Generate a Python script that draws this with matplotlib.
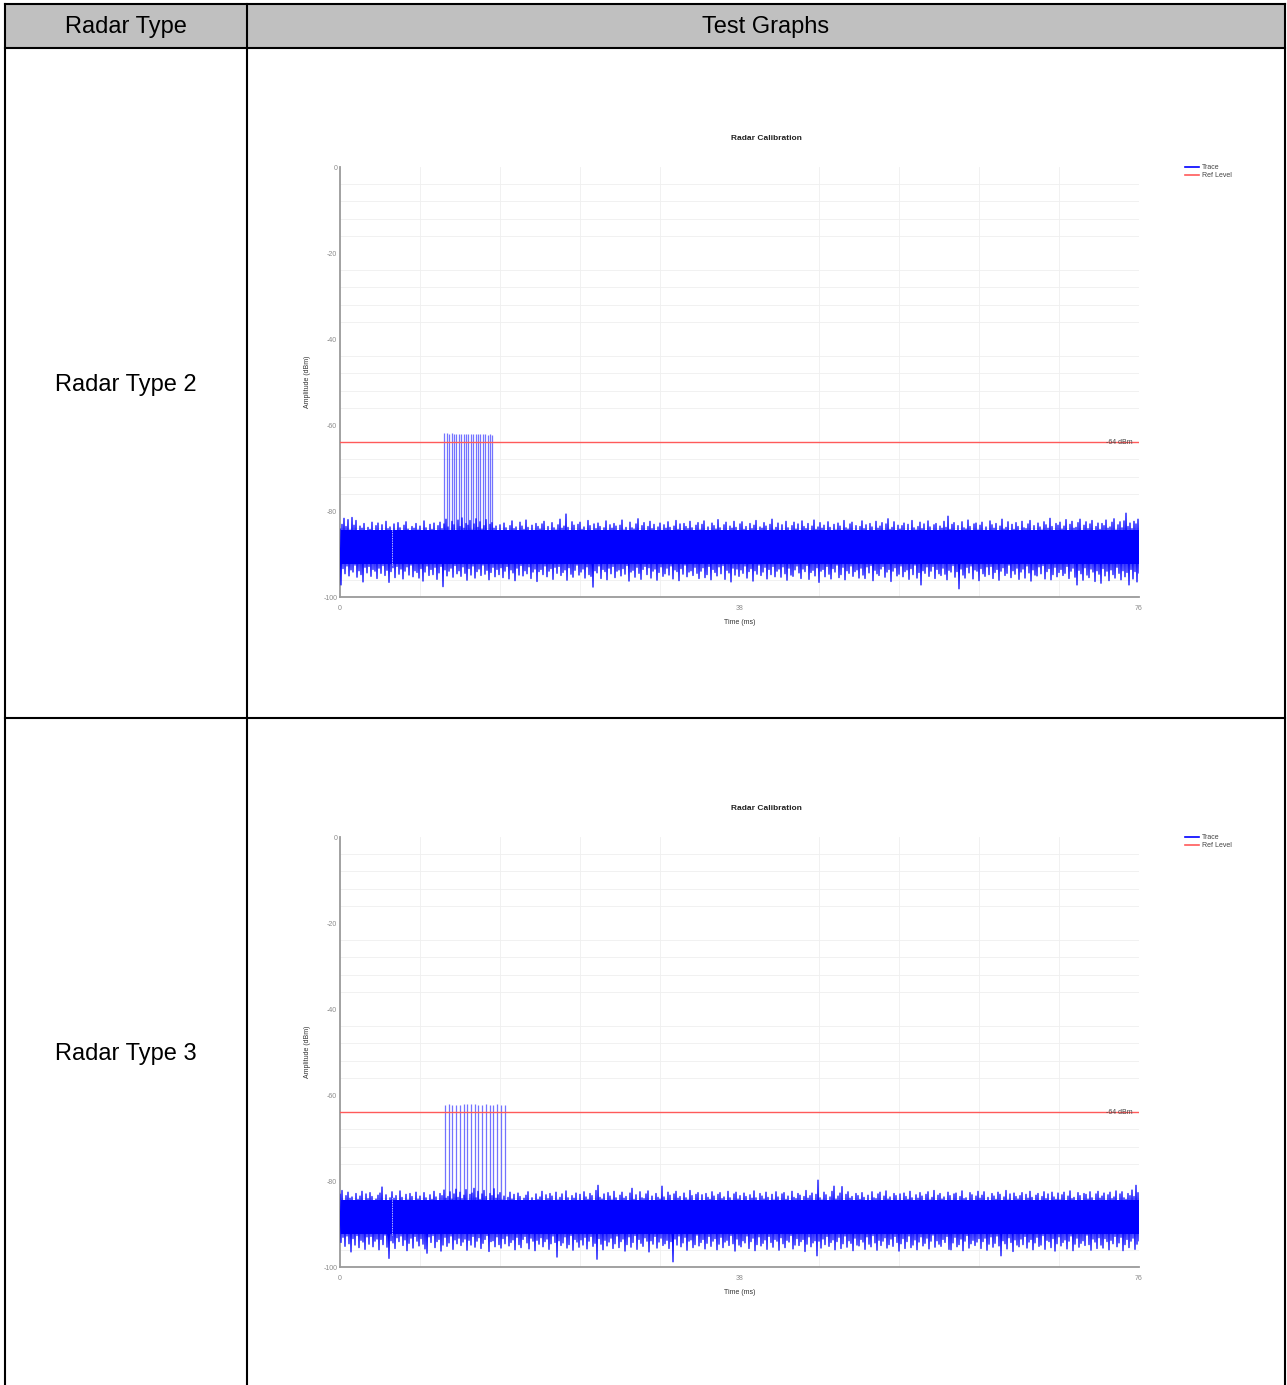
import numpy as np
import matplotlib
matplotlib.use("Agg")
import matplotlib.pyplot as plt
from matplotlib.patches import Rectangle
from matplotlib.lines import Line2D

plt.rcParams['font.family'] = ['Liberation Sans', 'DejaVu Sans']

# ---------------- data ----------------
header_labels = ["Radar Type", "Test Graphs"]
row_labels = ["Radar Type 2", "Radar Type 3"]
chart_title = "Radar Calibration"
x_label = "Time (ms)"
y_label = "Amplitude (dBm)"
legend_labels = ["Trace", "Ref Level"]

time_span_ms = 76
x_tick_values = [0, 38, 76]
y_tick_values = [0, -20, -40, -60, -80, -100]
ref_level_db = -64
ref_level_label = "-64 dBm"
noise_core_db = [-84.5, -92.3]
pulse_base_db = -85.0
marker_ms = 4.95
marker_range_db = [-83.7, -92.6]

# ---- Radar Type 2 trace ----
t2_pulse_ms = [9.92, 10.15, 10.38, 10.61, 10.84, 11.07, 11.29, 11.52, 11.75, 11.98, 12.21,
               12.44, 12.67, 12.90, 13.13, 13.36, 13.59, 13.81, 14.04, 14.27, 14.50]
t2_pulse_db = [-61.9, -61.9, -62.0, -61.9, -62.0, -62.1, -62.0, -62.1, -62.1, -62.0, -62.1,
               -62.1, -62.2, -62.1, -62.0, -62.2, -62.2, -62.1, -62.3, -62.2, -62.3]
t2_noise_upper = [
    -84.2,-83.1,-81.7,-83.6,-82.0,-84.4,-81.5,-83.3,-82.2,-84.8,-83.5,-84.0,-82.9,-85.1,-83.8,-84.3,-82.6,-84.9,-83.4,-82.8,
    -84.6,-83.2,-85.0,-82.4,-84.1,-83.7,-85.3,-83.0,-84.5,-82.7,-83.9,-84.7,-83.3,-82.5,-84.2,-85.2,-83.6,-84.0,-82.9,-84.4,
    -83.5,-84.8,-82.3,-83.9,-85.0,-83.1,-84.3,-82.8,-84.6,-83.4,-82.6,-84.1,-83.0,-81.9,-83.7,-84.5,-82.4,-83.2,-84.9,-82.1,
    -83.6,-81.6,-84.0,-82.9,-83.3,-82.2,-84.4,-83.0,-81.8,-83.8,-82.5,-84.2,-83.4,-82.0,-84.7,-83.1,-82.7,-84.0,-83.5,-85.0,
    -83.2,-84.6,-82.8,-83.9,-85.2,-83.4,-82.3,-84.1,-83.7,-84.8,-82.6,-83.5,-84.3,-82.1,-83.8,-85.0,-83.3,-84.5,-82.9,-83.6,
    -84.2,-83.0,-82.4,-84.7,-83.6,-85.1,-82.7,-83.9,-84.4,-83.2,-81.9,-84.0,-83.5,-80.7,-83.8,-84.6,-82.5,-83.3,-84.9,-83.1,
    -82.6,-84.3,-83.7,-85.0,-82.2,-83.4,-84.8,-83.0,-84.1,-82.8,-83.6,-85.2,-83.9,-82.3,-84.5,-83.2,-84.0,-82.9,-83.5,-84.7,
    -83.3,-82.1,-84.4,-83.8,-85.1,-82.6,-83.9,-84.2,-83.0,-81.8,-84.6,-83.4,-82.7,-84.9,-83.6,-82.4,-84.1,-83.1,-85.0,-83.7,
    -82.8,-84.5,-83.2,-84.0,-82.5,-83.8,-85.2,-83.5,-82.2,-84.3,-83.0,-84.8,-82.9,-83.6,-84.1,-82.4,-83.9,-85.0,-83.3,-82.7,
    -84.4,-83.1,-82.3,-84.7,-83.7,-85.1,-82.8,-83.4,-84.2,-82.0,-83.9,-84.6,-83.2,-82.6,-85.0,-83.5,-84.0,-82.4,-83.8,-84.9,
    -83.0,-82.5,-84.3,-83.6,-85.2,-82.9,-84.1,-83.3,-82.2,-84.8,-83.7,-84.0,-82.7,-83.5,-84.6,-83.1,-81.9,-84.4,-83.8,-82.8,
    -84.5,-83.2,-84.9,-82.4,-83.9,-85.0,-83.4,-82.6,-84.2,-83.0,-84.7,-82.3,-83.6,-84.1,-82.9,-85.1,-83.5,-82.1,-84.3,-83.7,
    -82.7,-84.0,-83.3,-84.6,-82.5,-83.8,-85.2,-83.1,-84.4,-82.8,-83.5,-84.9,-82.2,-83.9,-84.2,-83.0,-82.6,-84.7,-83.4,-85.0,
    -83.6,-82.3,-84.1,-83.2,-84.8,-82.9,-83.7,-85.1,-82.4,-84.0,-83.5,-82.7,-84.5,-83.0,-81.8,-84.3,-83.8,-82.5,-84.9,-83.3,
    -84.2,-83.4,-82.8,-85.0,-83.1,-84.6,-82.2,-83.9,-84.4,-83.6,-82.6,-84.1,-83.0,-84.8,-82.3,-83.7,-85.2,-83.2,-82.9,-84.5,
    -83.5,-84.0,-82.4,-83.8,-81.2,-84.3,-83.1,-82.7,-84.7,-83.4,-85.0,-82.5,-83.9,-84.2,-82.1,-83.6,-84.9,-83.0,-82.8,-84.4,
    -83.3,-82.6,-84.5,-83.7,-85.1,-82.3,-83.2,-84.0,-82.9,-84.6,-83.5,-81.9,-84.2,-83.8,-82.5,-85.0,-83.1,-84.3,-82.7,-83.6,
    -84.8,-82.4,-83.9,-84.1,-83.0,-82.2,-84.6,-83.4,-85.2,-82.8,-83.7,-84.4,-82.5,-83.2,-84.0,-81.7,-83.6,-84.9,-82.9,-83.3,
    -82.6,-84.2,-83.5,-82.0,-84.7,-83.1,-82.4,-84.0,-83.8,-82.7,-81.9,-84.5,-83.3,-82.5,-84.1,-83.0,-82.2,-84.6,-83.6,-82.8,
    -84.3,-82.9,-83.4,-82.1,-84.0,-83.7,-82.6,-81.8,-84.4,-83.2,-82.5,-83.9,-82.3,-80.5,-83.6,-82.8,-84.1,-82.4,-83.0,-81.9,
]
t2_noise_lower = [
    -97.2,-93.4,-94.6,-92.8,-95.1,-93.7,-94.2,-92.6,-95.4,-93.9,-94.8,-96.5,-93.1,-94.4,-92.9,-95.2,-93.6,-94.0,-95.7,-93.3,
    -94.5,-92.7,-95.0,-93.8,-96.6,-94.1,-93.2,-95.5,-92.9,-94.7,-93.5,-95.8,-94.0,-93.0,-94.9,-92.6,-95.3,-93.9,-94.3,-95.6,
    -93.4,-96.3,-94.2,-92.8,-95.0,-93.6,-94.8,-93.1,-95.9,-94.4,-92.9,-97.6,-93.7,-95.1,-94.0,-93.3,-95.4,-92.7,-94.6,-93.9,
    -95.2,-93.0,-94.5,-96.1,-93.4,-94.9,-92.8,-95.6,-94.1,-93.5,-95.0,-92.6,-94.7,-93.8,-96.0,-94.3,-93.1,-95.3,-93.6,-94.8,
    -93.2,-95.5,-94.0,-92.9,-95.8,-93.7,-94.4,-96.2,-93.3,-94.9,-92.7,-95.1,-93.9,-94.6,-93.0,-95.7,-94.2,-93.5,-96.4,-94.1,
    -93.6,-94.8,-92.8,-95.3,-94.0,-93.4,-95.9,-93.1,-94.5,-92.9,-95.0,-94.3,-93.7,-96.1,-93.2,-94.7,-95.4,-93.8,-92.6,-94.9,
    -94.2,-93.5,-95.6,-93.0,-94.8,-95.2,-97.7,-93.9,-94.4,-92.8,-95.7,-93.6,-94.1,-96.0,-93.3,-94.6,-92.9,-95.5,-94.0,-93.7,
    -95.1,-93.4,-94.7,-92.7,-96.3,-94.2,-93.8,-95.4,-93.1,-94.5,-95.9,-93.6,-92.9,-94.8,-93.2,-95.6,-94.0,-93.5,-96.1,-94.3,
    -93.0,-95.2,-94.6,-93.3,-94.9,-92.8,-95.8,-93.7,-94.1,-96.2,-93.4,-94.7,-92.6,-95.3,-94.2,-93.9,-95.0,-93.1,-94.5,-95.7,
    -94.0,-93.2,-95.5,-94.8,-92.9,-96.0,-93.6,-94.3,-95.1,-93.0,-94.6,-92.7,-95.9,-93.8,-94.4,-96.5,-93.3,-94.9,-93.5,-95.2,
    -93.7,-94.5,-92.8,-95.6,-94.1,-93.4,-96.3,-93.9,-94.7,-92.6,-95.0,-94.2,-93.1,-95.8,-93.6,-94.8,-92.9,-95.3,-94.0,-93.5,
    -95.4,-93.0,-94.6,-96.1,-93.3,-94.9,-95.2,-93.7,-92.8,-94.4,-95.7,-93.5,-94.1,-92.7,-95.9,-94.3,-93.8,-95.1,-93.2,-96.6,
    -94.0,-93.6,-95.3,-92.9,-94.7,-95.8,-93.4,-94.2,-92.6,-95.5,-94.8,-93.1,-96.0,-93.9,-94.5,-92.8,-95.2,-94.1,-93.7,-95.6,
    -93.3,-94.9,-95.7,-93.0,-94.4,-92.7,-96.2,-93.8,-94.6,-95.0,-93.5,-92.9,-95.4,-94.2,-93.6,-96.4,-94.0,-93.2,-95.1,-94.7,
    -92.8,-95.3,-94.1,-93.7,-95.9,-93.4,-94.8,-92.6,-95.6,-94.3,-97.2,-93.9,-94.5,-93.0,-95.2,-94.0,-92.9,-95.7,-93.6,-94.6,
    -95.0,-93.3,-94.7,-96.0,-93.8,-94.2,-92.7,-95.4,-94.1,-98.1,-93.5,-94.9,-95.6,-93.1,-94.4,-92.8,-95.8,-93.7,-94.0,-96.2,
    -93.4,-94.6,-95.2,-93.0,-94.8,-92.9,-95.7,-94.3,-93.6,-96.1,-94.0,-93.2,-95.0,-94.5,-92.6,-95.5,-93.9,-94.7,-93.3,-95.9,
    -94.2,-93.5,-95.6,-92.8,-94.4,-96.3,-93.7,-94.9,-95.1,-93.0,-94.6,-92.7,-95.8,-94.1,-93.4,-96.0,-94.8,-93.1,-95.3,-94.3,
    -93.6,-95.0,-94.5,-92.9,-95.7,-94.0,-93.3,-95.4,-97.2,-93.8,-94.6,-96.1,-93.2,-94.9,-95.5,-93.5,-94.2,-96.4,-93.9,-94.7,
    -96.8,-93.4,-95.1,-94.0,-96.2,-93.7,-94.8,-95.6,-93.1,-94.5,-96.0,-93.9,-95.3,-94.3,-97.2,-93.6,-95.8,-94.1,-96.5,-94.4,
]

# ---- Radar Type 3 trace ----
t3_pulse_ms = [9.99, 10.34, 10.70, 11.05, 11.41, 11.76, 12.11, 12.47, 12.82, 13.17, 13.53,
               13.88, 14.23, 14.59, 14.94, 15.30, 15.65]
t3_pulse_db = [-62.3, -62.2, -62.3, -62.3, -62.4, -62.2, -62.1, -62.2, -62.2, -62.3, -62.3,
               -62.2, -62.3, -62.3, -62.2, -62.3, -62.3]
t3_noise_upper = [
    -83.1,-82.2,-84.5,-83.4,-82.6,-84.0,-83.7,-85.1,-82.9,-84.3,-83.5,-82.4,-84.8,-83.0,-84.1,-82.7,-83.6,-85.0,-84.2,-83.3,
    -82.8,-81.4,-84.6,-83.2,-85.2,-83.9,-82.5,-84.0,-83.4,-84.7,-82.3,-83.8,-85.0,-83.1,-84.4,-82.9,-83.6,-84.9,-82.6,-84.2,
    -83.5,-84.8,-82.7,-83.9,-85.1,-83.2,-84.3,-82.4,-83.7,-84.6,-82.9,-83.4,-82.1,-84.0,-83.6,-82.5,-84.2,-83.0,-81.9,-83.8,
    -82.6,-84.1,-83.3,-82.0,-84.5,-83.1,-82.8,-81.7,-83.9,-82.4,-84.3,-83.0,-82.2,-83.6,-84.7,-82.9,-83.4,-81.8,-84.0,-83.2,
    -82.7,-84.4,-83.5,-85.0,-83.8,-82.6,-84.2,-83.1,-84.9,-82.8,-83.6,-85.2,-84.0,-83.3,-82.5,-84.6,-83.9,-85.1,-83.0,-84.3,
    -83.7,-82.4,-84.8,-83.2,-84.1,-82.9,-83.5,-85.0,-82.6,-84.4,-83.8,-83.0,-84.7,-82.3,-83.9,-85.2,-83.4,-84.0,-82.8,-84.5,
    -83.1,-84.6,-82.5,-83.7,-84.3,-82.9,-83.4,-84.9,-82.2,-81.0,-83.8,-84.2,-83.0,-85.1,-82.7,-83.5,-84.4,-82.4,-83.9,-84.8,
    -83.3,-82.6,-84.0,-83.6,-85.0,-82.8,-81.7,-84.3,-83.2,-84.7,-82.5,-83.9,-84.1,-83.0,-82.3,-84.6,-83.5,-85.2,-82.9,-83.8,
    -84.2,-81.2,-83.7,-84.5,-82.6,-83.3,-84.9,-83.0,-82.4,-84.0,-83.6,-85.1,-82.8,-83.9,-84.4,-82.2,-83.4,-84.7,-83.1,-82.7,
    -84.6,-83.2,-85.0,-82.9,-83.8,-84.3,-82.5,-83.5,-84.8,-83.1,-82.7,-84.1,-83.7,-85.2,-82.4,-83.9,-84.5,-83.0,-82.6,-84.2,
    -83.4,-84.7,-82.8,-83.6,-85.1,-83.2,-84.0,-82.3,-83.9,-84.6,-82.9,-83.5,-84.2,-82.6,-83.8,-85.0,-83.1,-84.4,-82.5,-83.7,
    -84.9,-83.0,-82.7,-84.3,-83.5,-85.2,-82.4,-83.8,-84.1,-82.9,-83.3,-84.6,-83.6,-82.2,-84.0,-83.4,-82.8,-84.5,-83.1,-79.8,
    -83.9,-84.4,-82.6,-83.2,-85.0,-83.7,-82.4,-81.2,-84.2,-83.5,-82.8,-81.3,-84.7,-83.1,-82.5,-84.0,-83.6,-85.1,-82.9,-83.4,
    -84.3,-82.7,-83.8,-85.0,-83.3,-84.6,-82.5,-83.9,-84.1,-83.0,-82.6,-84.8,-83.5,-82.3,-84.2,-83.7,-85.2,-82.9,-83.4,-84.5,
    -83.0,-84.7,-82.8,-83.6,-84.3,-82.4,-83.9,-85.1,-83.2,-84.0,-82.7,-83.5,-84.9,-83.1,-82.5,-84.4,-83.8,-82.2,-84.6,-83.3,
    -82.9,-84.2,-83.7,-85.0,-82.6,-83.4,-84.5,-83.0,-82.8,-84.8,-83.6,-82.3,-84.1,-83.9,-85.2,-82.7,-83.2,-84.6,-83.5,-82.4,
    -84.0,-83.3,-82.5,-84.7,-83.8,-85.1,-82.9,-83.5,-84.3,-82.6,-83.1,-84.9,-83.7,-82.2,-84.4,-83.0,-85.0,-82.8,-83.6,-84.2,
    -83.4,-82.7,-84.6,-83.1,-84.0,-82.4,-83.8,-85.2,-83.3,-82.9,-84.5,-83.6,-82.5,-84.1,-83.0,-84.8,-82.6,-83.7,-84.3,-82.8,
    -84.4,-83.2,-82.6,-84.9,-83.5,-82.3,-84.1,-83.8,-85.0,-82.7,-83.4,-84.6,-82.9,-83.1,-84.2,-82.5,-83.9,-84.7,-83.0,-82.4,
    -84.0,-83.5,-82.8,-84.5,-83.2,-82.6,-84.1,-83.7,-82.3,-84.8,-83.0,-82.5,-83.9,-84.3,-82.9,-83.4,-82.1,-83.6,-81.0,-82.7,
]
t3_noise_lower = [
    -94.3,-93.1,-95.2,-92.8,-94.6,-96.5,-93.4,-94.9,-92.7,-95.5,-93.8,-94.2,-95.9,-93.0,-94.7,-92.9,-95.3,-94.0,-93.5,-96.0,
    -93.6,-94.8,-92.6,-95.4,-98.0,-93.9,-94.4,-95.7,-93.2,-94.1,-92.8,-95.0,-93.7,-96.2,-94.5,-93.3,-95.6,-92.9,-94.0,-95.1,
    -93.4,-94.7,-95.8,-96.8,-93.0,-94.3,-92.7,-95.5,-94.1,-93.6,-96.3,-94.9,-93.1,-95.2,-94.4,-92.8,-95.9,-93.7,-94.6,-93.3,
    -95.0,-94.2,-93.5,-96.1,-93.8,-94.9,-92.9,-95.4,-94.0,-93.2,-95.7,-94.5,-93.6,-92.7,-96.4,-94.1,-93.9,-95.3,-93.0,-94.8,
    -95.6,-93.4,-94.6,-92.8,-95.1,-94.3,-93.7,-96.0,-93.1,-94.8,-95.5,-93.6,-92.9,-94.4,-95.8,-93.3,-94.0,-96.2,-93.8,-94.7,
    -93.2,-95.3,-94.1,-93.5,-95.9,-94.6,-92.8,-94.3,-97.7,-93.9,-95.0,-94.4,-93.0,-95.6,-94.8,-92.7,-96.1,-93.6,-94.2,-95.4,
    -93.7,-94.9,-93.1,-95.8,-94.0,-92.9,-95.2,-94.5,-98.2,-93.4,-94.7,-96.0,-93.8,-95.1,-94.2,-93.3,-95.7,-94.6,-92.8,-95.5,
    -94.1,-93.5,-96.3,-94.8,-93.0,-95.4,-94.3,-92.7,-95.9,-93.6,-94.5,-95.2,-93.2,-94.0,-96.5,-93.9,-94.7,-92.9,-95.6,-94.2,
    -93.3,-95.0,-94.6,-93.8,-95.7,-94.1,-98.8,-93.5,-94.9,-92.8,-95.3,-94.4,-93.1,-96.1,-94.0,-93.7,-95.5,-94.8,-92.6,-95.1,
    -94.3,-93.6,-95.8,-94.5,-92.9,-95.2,-94.0,-93.4,-96.0,-94.7,-93.1,-95.5,-94.2,-93.8,-95.0,-92.7,-94.6,-96.3,-93.5,-94.9,
    -95.3,-93.9,-94.4,-92.8,-95.7,-94.1,-93.3,-96.2,-94.8,-93.0,-95.1,-94.5,-93.7,-95.9,-92.9,-94.3,-95.4,-93.6,-94.0,-96.1,
    -93.2,-94.6,-95.5,-93.8,-94.2,-92.7,-95.8,-94.9,-93.4,-95.0,-94.1,-93.6,-96.4,-94.7,-93.0,-95.3,-94.4,-93.9,-97.4,-94.0,
    -95.6,-93.5,-94.8,-92.9,-95.2,-94.3,-93.7,-96.0,-94.1,-93.1,-95.7,-94.6,-92.8,-95.4,-93.9,-94.5,-96.2,-93.3,-94.9,-95.1,
    -93.6,-94.2,-95.9,-93.0,-94.7,-95.3,-92.7,-94.4,-96.1,-93.8,-95.0,-94.0,-93.2,-95.6,-94.8,-93.5,-95.2,-92.9,-94.3,-96.3,
    -94.6,-93.4,-95.7,-94.1,-92.8,-95.5,-94.9,-93.7,-96.0,-94.2,-93.0,-95.1,-94.5,-93.3,-95.8,-94.0,-92.6,-95.4,-93.9,-94.7,
    -95.2,-93.6,-94.3,-92.9,-95.9,-96.0,-94.4,-93.1,-95.3,-94.8,-93.5,-96.2,-94.0,-92.7,-95.6,-94.6,-93.8,-95.0,-94.2,-93.4,
    -95.7,-94.1,-93.3,-96.1,-94.7,-93.0,-95.4,-94.5,-92.8,-95.1,-97.4,-93.9,-94.6,-95.8,-93.2,-94.3,-96.4,-93.7,-94.9,-95.3,
    -93.5,-94.8,-92.9,-95.6,-94.2,-93.6,-96.0,-94.4,-93.1,-95.2,-94.9,-92.7,-95.9,-93.8,-94.1,-95.5,-93.4,-96.3,-94.6,-93.0,
    -95.1,-94.3,-93.7,-95.8,-94.0,-92.8,-96.2,-94.7,-93.3,-95.4,-94.5,-93.9,-95.0,-92.6,-94.8,-96.1,-93.5,-94.2,-95.7,-93.2,
    -94.9,-95.6,-93.4,-94.1,-96.0,-93.8,-94.6,-92.9,-95.3,-94.4,-93.1,-96.2,-94.8,-93.6,-95.5,-94.0,-93.3,-95.9,-94.7,-93.9,
]

charts = [
    (t2_noise_upper, t2_noise_lower, t2_pulse_ms, t2_pulse_db),
    (t3_noise_upper, t3_noise_lower, t3_pulse_ms, t3_pulse_db),
]

# ---------------- layout ----------------
W, H = 1287, 1385
fig = plt.figure(figsize=(W / 100, H / 100), dpi=100)
fig.patch.set_facecolor("white")

tab = fig.add_axes([0, 0, 1, 1])
tab.set_xlim(0, W)
tab.set_ylim(H, 0)
tab.axis("off")

x_left, x_col, x_right = 5, 247, 1285
y_top, y_head, y_row = 4, 48, 718
tab.add_patch(Rectangle((x_left, y_top), x_right - x_left, y_head - y_top,
                        facecolor="#c0c0c0", edgecolor="none", zorder=0))
lw_tab = 1.5
tab.plot([x_left, x_right], [y_top, y_top], color="black", lw=lw_tab, solid_capstyle="projecting")
tab.plot([x_left, x_right], [y_head, y_head], color="black", lw=lw_tab)
tab.plot([x_left, x_right], [y_row, y_row], color="black", lw=lw_tab)
for xx in (x_left, x_col, x_right):
    tab.plot([xx, xx], [y_top, H + 5], color="black", lw=lw_tab)

tab.text((x_left + x_col) / 2, 27, header_labels[0], ha="center", va="center", fontsize=17)
tab.text((x_col + x_right) / 2, 27, header_labels[1], ha="center", va="center", fontsize=17)
row_centers = [385, 1054]
for lab, yc in zip(row_labels, row_centers):
    tab.text((x_left + x_col) / 2, yc, lab, ha="center", va="center", fontsize=17)

# chart placement (pixels)
ax_left, ax_right = 340, 1139
chart_tops = [167, 837]
ax_h = 430

trace_color = "#0000ff"
ref_color = "#ff5a5a"
tick_color = "#8a8a8a"
for (upper, lower, p_ms, p_db), top in zip(charts, chart_tops):
    bottom = top + ax_h
    ax = fig.add_axes([ax_left / W, 1 - bottom / H, (ax_right - ax_left) / W, ax_h / H])
    ax.set_xlim(0, time_span_ms)
    ax.set_ylim(-100, 0)

    # grid
    ax.set_xticks(np.arange(0, time_span_ms + 0.01, time_span_ms / 10), minor=True)
    ax.set_yticks(np.arange(-100, 0.01, 4), minor=True)
    ax.grid(which="minor", color="#efefef", lw=0.6)
    ax.set_xticks(x_tick_values)
    ax.set_yticks(y_tick_values)
    ax.set_xticklabels([str(v) for v in x_tick_values])
    ax.set_yticklabels([str(v) for v in y_tick_values])
    ax.tick_params(which="both", length=0, labelsize=5, labelcolor=tick_color)
    ax.tick_params(axis="y", pad=2)
    ax.tick_params(axis="x", pad=6)
    for s in ("top", "right"):
        ax.spines[s].set_visible(False)
    for s in ("left", "bottom"):
        ax.spines[s].set_color("#9a9a9a")
        ax.spines[s].set_linewidth(1.3)

    # trace: interleave upper/lower noise samples
    n = len(upper)
    trace_y = np.empty(2 * n)
    trace_y[0::2] = upper
    trace_y[1::2] = lower
    trace_x = np.linspace(0, time_span_ms, 2 * n)
    ax.fill_between([0, time_span_ms], noise_core_db[0], noise_core_db[1],
                    color=trace_color, lw=0, zorder=2)
    ax.plot(trace_x, trace_y, color=trace_color, lw=0.9, zorder=3)
    ax.vlines(p_ms, pulse_base_db, p_db, color=trace_color, lw=0.9, alpha=0.55, zorder=3)
    ax.vlines([marker_ms], marker_range_db[1], marker_range_db[0], color="white",
              lw=0.6, linestyles=(0, (1, 1)), zorder=4)

    # reference level
    ax.axhline(ref_level_db, color=ref_color, lw=1.0, zorder=4)
    ax.text(time_span_ms - 0.6, ref_level_db, ref_level_label, ha="right", va="center",
            fontsize=5, color="#444444", zorder=5)

    ax.set_xlabel(x_label, fontsize=5, color="#333333", labelpad=5)
    ax.set_ylabel(y_label, fontsize=5, color="#333333", labelpad=9)

    fig.text(766 / W, 1 - (top - 29) / H, chart_title, ha="center", va="center",
             fontsize=6, fontweight="bold", color="#222222")

    handles = [Line2D([], [], color=trace_color, lw=1.2),
               Line2D([], [], color=ref_color, lw=1.2)]
    ax.legend(handles, legend_labels, loc="upper left",
              bbox_to_anchor=(1185 / W, 1 - (top - 3) / H), bbox_transform=fig.transFigure,
              frameon=False, fontsize=5, handlelength=2.0, handletextpad=0.5,
              labelspacing=0.15, borderpad=0, borderaxespad=0, labelcolor="#444444")

fig.savefig("out.png", dpi=100, facecolor="white")
